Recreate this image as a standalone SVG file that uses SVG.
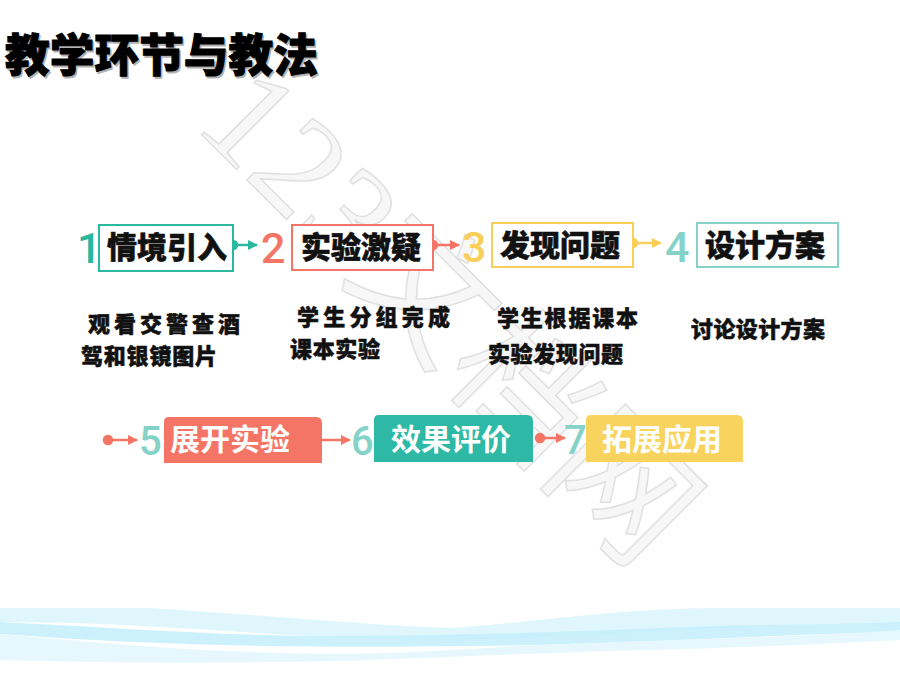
<svg xmlns="http://www.w3.org/2000/svg" width="900" height="675" viewBox="0 0 900 675">
<defs>
<style>
.cjk{font-family:"Noto Sans CJK SC","Noto Sans",sans-serif;font-weight:900}
.title{font-size:45px;fill:#000;stroke:#000;stroke-width:1}
.lbl{font-size:30px;fill:#111;stroke:#111;stroke-width:0.6}
.wl{font-size:30px;fill:#fff;font-weight:700}
.desc{font-size:22px;fill:#111;stroke:#111;stroke-width:0.5}
.num{font-family:Roboto,"Liberation Sans",sans-serif;font-weight:500;font-size:43px}
.num2{font-family:Roboto,"Liberation Sans",sans-serif;font-weight:500;font-size:40px;fill:#84D2C8}
.wm{font-family:"Liberation Serif","Noto Sans CJK SC",serif;font-size:140px;fill:#f7f7f7;stroke:#e0e0e0;stroke-width:1.5}
</style>
<marker id="aT" viewBox="0 0 10 10" refX="9" refY="5" markerWidth="10" markerHeight="10" markerUnits="userSpaceOnUse" orient="auto"><path d="M0,0 L10,5 L0,10 Z" fill="#2BB8A0"/></marker>
<marker id="aS" viewBox="0 0 10 10" refX="9" refY="5" markerWidth="10" markerHeight="10" markerUnits="userSpaceOnUse" orient="auto"><path d="M0,0 L10,5 L0,10 Z" fill="#F47565"/></marker>
<marker id="aY" viewBox="0 0 10 10" refX="9" refY="5" markerWidth="10" markerHeight="10" markerUnits="userSpaceOnUse" orient="auto"><path d="M0,0 L10,5 L0,10 Z" fill="#F9CF5A"/></marker>
</defs>
<rect width="900" height="675" fill="#fff"/>

<!-- bottom wave -->
<g id="wave">
<path d="M0,608 L150,608 C300,618 380,626 450,628 C540,622 620,608 720,608 L900,608 L900,624 C760,622 640,636 460,640 C300,642 180,622 0,622 Z" fill="#d8f4fc" opacity="0.85"/>
<path d="M0,622 C120,628 220,636 340,636 C480,636 600,630 720,626 C800,624 860,624 900,622 L900,632 C780,634 640,644 470,646 C300,648 160,646 0,634 Z" fill="#c4eefb" opacity="0.85"/>
<path d="M0,634 C150,648 300,660 450,650 C600,640 760,640 900,630 L900,640 C760,648 620,650 470,656 C300,664 150,664 0,660 Z" fill="#e3f7fd" opacity="0.9"/>
</g>

<!-- watermark -->
<text class="wm" x="193" y="126" transform="rotate(45 193 126)">123文档网</text>

<!-- title -->
<text class="cjk title" x="6.5" y="73.5" fill="#999" stroke="#999" opacity="0.3" textLength="313" lengthAdjust="spacingAndGlyphs">教学环节与教法</text>
<text class="cjk title" x="5" y="72" textLength="313" lengthAdjust="spacingAndGlyphs">教学环节与教法</text>

<!-- connectors -->
<g id="connectors" stroke-width="2.5" fill="none">
<g stroke="#2BB8A0"><circle cx="233" cy="245" r="4" fill="#2BB8A0"/><line x1="233" y1="245" x2="257" y2="245" marker-end="url(#aT)"/></g>
<g stroke="#F47565"><circle cx="433" cy="245" r="4" fill="#F47565"/><line x1="433" y1="245" x2="459" y2="245" marker-end="url(#aS)"/></g>
<g stroke="#F9CF5A"><circle cx="633" cy="243" r="4" fill="#F9CF5A"/><line x1="633" y1="243" x2="661" y2="243" marker-end="url(#aY)"/></g>
<g stroke="#F47565"><circle cx="108" cy="440" r="4" fill="#F47565"/><line x1="108" y1="440" x2="137" y2="440" marker-end="url(#aS)"/></g>
<g stroke="#F47565"><line x1="322" y1="440" x2="350" y2="440" marker-end="url(#aS)"/></g>
<g stroke="#F47565"><circle cx="540" cy="438" r="4" fill="#F47565"/><line x1="540" y1="438" x2="565" y2="438" marker-end="url(#aS)"/></g>
</g>

<!-- row 1 -->
<g id="n1">
<text class="num" x="77" y="263" fill="#2BB8A0">1</text>
<rect x="99" y="225" width="134" height="46" fill="#fff" stroke="#2BB8A0" stroke-width="2"/>
<text class="cjk lbl" x="107" y="258">情境引入</text>
</g>
<g id="n2">
<text class="num" x="261" y="263" fill="#F47565">2</text>
<rect x="292" y="225" width="141" height="45" fill="#fff" stroke="#F47565" stroke-width="2"/>
<text class="cjk lbl" x="301" y="258">实验激疑</text>
</g>
<g id="n3">
<text class="num" x="462" y="262" fill="#F9CF5A">3</text>
<rect x="492" y="223" width="141" height="44" fill="#fff" stroke="#F9CF5A" stroke-width="2"/>
<text class="cjk lbl" x="500" y="256">发现问题</text>
</g>
<g id="n4">
<text class="num" x="665" y="262" fill="#84D2C8">4</text>
<rect x="697" y="223" width="141" height="44" fill="#fff" stroke="#84D2C8" stroke-width="2"/>
<text class="cjk lbl" x="705" y="256">设计方案</text>
</g>

<!-- descriptions -->
<g id="d1">
<text class="cjk desc" x="88" y="332" textLength="152" lengthAdjust="spacing">观看交警查酒</text>
<text class="cjk desc" x="81" y="364" textLength="136" lengthAdjust="spacing">驾和银镜图片</text>
</g>
<g id="d2">
<text class="cjk desc" x="297" y="325" textLength="153" lengthAdjust="spacing">学生分组完成</text>
<text class="cjk desc" x="290" y="357" textLength="90" lengthAdjust="spacing">课本实验</text>
</g>
<g id="d3">
<text class="cjk desc" x="497" y="326" textLength="141" lengthAdjust="spacing">学生根据课本</text>
<text class="cjk desc" x="488" y="362" textLength="135" lengthAdjust="spacing">实验发现问题</text>
</g>
<g id="d4">
<text class="cjk desc" x="691" y="337" textLength="134" lengthAdjust="spacing">讨论设计方案</text>
</g>

<!-- row 2 -->
<g id="n5">
<text class="num2" x="139" y="455">5</text>
<path d="M164,463 L164,422 Q164,417 169,417 L316,417 Q322,417 322,423 L322,463 Z" fill="#F47565"/>
<text class="cjk wl" x="170" y="450">展开实验</text>
</g>
<g id="n6">
<text class="num2" x="351" y="455">6</text>
<path d="M374,462 L374,420 Q374,415 379,415 L527,415 Q533,415 533,421 L533,462 Z" fill="#2DB9A5"/>
<text class="cjk wl" x="391" y="450">效果评价</text>
</g>
<g id="n7">
<text class="num2" x="564" y="454">7</text>
<path d="M586,462 L586,420 Q586,415 591,415 L737,415 Q743,415 743,421 L743,462 Z" fill="#F8D35E"/>
<text class="cjk wl" x="602" y="450">拓展应用</text>
</g>
</svg>
